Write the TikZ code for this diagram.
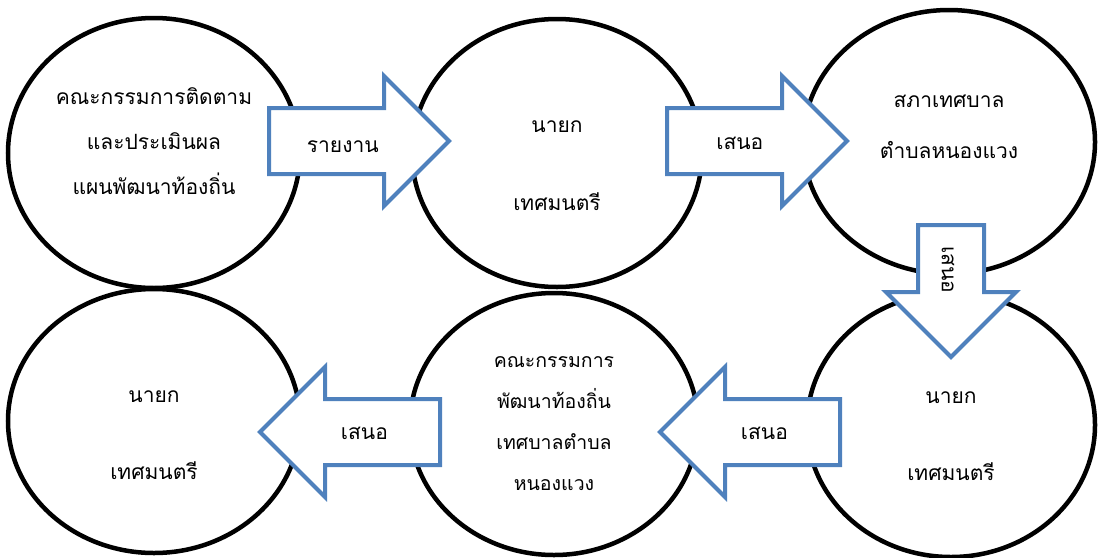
\documentclass[tikz,border=0pt]{standalone}
\usepackage{fontspec}
\setmainfont[Script=Thai]{Loma}
\usetikzlibrary{shapes.geometric,shapes.arrows,calc}

\definecolor{arrowblue}{HTML}{4F81BD}

\begin{document}
\begin{tikzpicture}[
        x=1pt, y=-1pt,
        bubble/.style={ellipse, draw, line width=4.5pt, inner sep=0pt},
        txt/.style={align=center, font=\fontsize{21}{45}\selectfont},
        blockarrow/.style={single arrow, draw=arrowblue, fill=white, line width=4pt,
            single arrow head extend=32pt, single arrow tip angle=90,
            inner xsep=0pt, inner ysep=31pt, minimum height=180pt, anchor=tail},
        arrowtxt/.style={font=\fontsize{21}{26}\selectfont, inner sep=0pt}
    ]
        \useasboundingbox (0,0) rectangle (1099,557);

        % circles
        \node[bubble, minimum width=292pt, minimum height=270pt] (e1) at (154,153) {};
        \node[bubble, minimum width=290pt, minimum height=268pt] (e2) at (557,153) {};
        \node[bubble, minimum width=292pt, minimum height=264pt] (e3) at (949,142) {};
        \node[bubble, minimum width=292pt, minimum height=264pt] (e4) at (154,421) {};
        \node[bubble, minimum width=288pt, minimum height=262pt] (e5) at (554,424) {};
        \node[bubble, minimum width=288pt, minimum height=264pt] (e6) at (951,425) {};

        \node[txt] (t1) at ([yshift=12pt]e1.center) {คณะกรรมการติดตาม\\และประเมินผล\\แผนพัฒนาท้องถิ่น};
        \node[txt, font=\fontsize{21}{78}\selectfont] (t2) at ([yshift=-13pt]e2.center) {นายก\\เทศมนตรี};
        \node[txt, font=\fontsize{21}{51}\selectfont] (t3) at ([yshift=15pt]e3.center) {สภาเทศบาล\\ตำบลหนองแวง};
        \node[txt, font=\fontsize{21}{77}\selectfont] (t4) at ([yshift=-14pt]e4.center) {นายก\\เทศมนตรี};
        \node[txt, font=\fontsize{19.5}{41}\selectfont] (t5) at (e5.center) {คณะกรรมการ\\พัฒนาท้องถิ่น\\เทศบาลตำบล\\หนองแวง};
        \node[txt, font=\fontsize{21}{77}\selectfont] (t6) at ([yshift=-11pt]e6.center) {นายก\\เทศมนตรี};

        % block arrows
        \node[blockarrow] (a1) at (267,141) {};
        \node[blockarrow] (a2) at (665,141) {};
        \node[blockarrow, rotate=-90, minimum height=132pt] (a3) at (951,223) {};
        \node[blockarrow, rotate=180] (a4) at (442,432) {};
        \node[blockarrow, rotate=180] (a5) at (842,432) {};

        \node[arrowtxt] (l1) at ($(a1.tail)!0.41!(a1.tip)+(0,6)$) {รายงาน};
        \node[arrowtxt] (l2) at ($(a2.tail)!0.405!(a2.tip)+(0,2)$) {เสนอ};
        \node[arrowtxt, rotate=-90] (l3) at ($(a3.tail)!0.34!(a3.tip)+(-3,0)$) {เสนอ};
        \node[arrowtxt] (l4) at ($(a4.tail)!0.42!(a4.tip)+(0,1)$) {เสนอ};
        \node[arrowtxt] (l5) at ($(a5.tail)!0.42!(a5.tip)+(0,1)$) {เสนอ};
    \end{tikzpicture}
\end{document}
